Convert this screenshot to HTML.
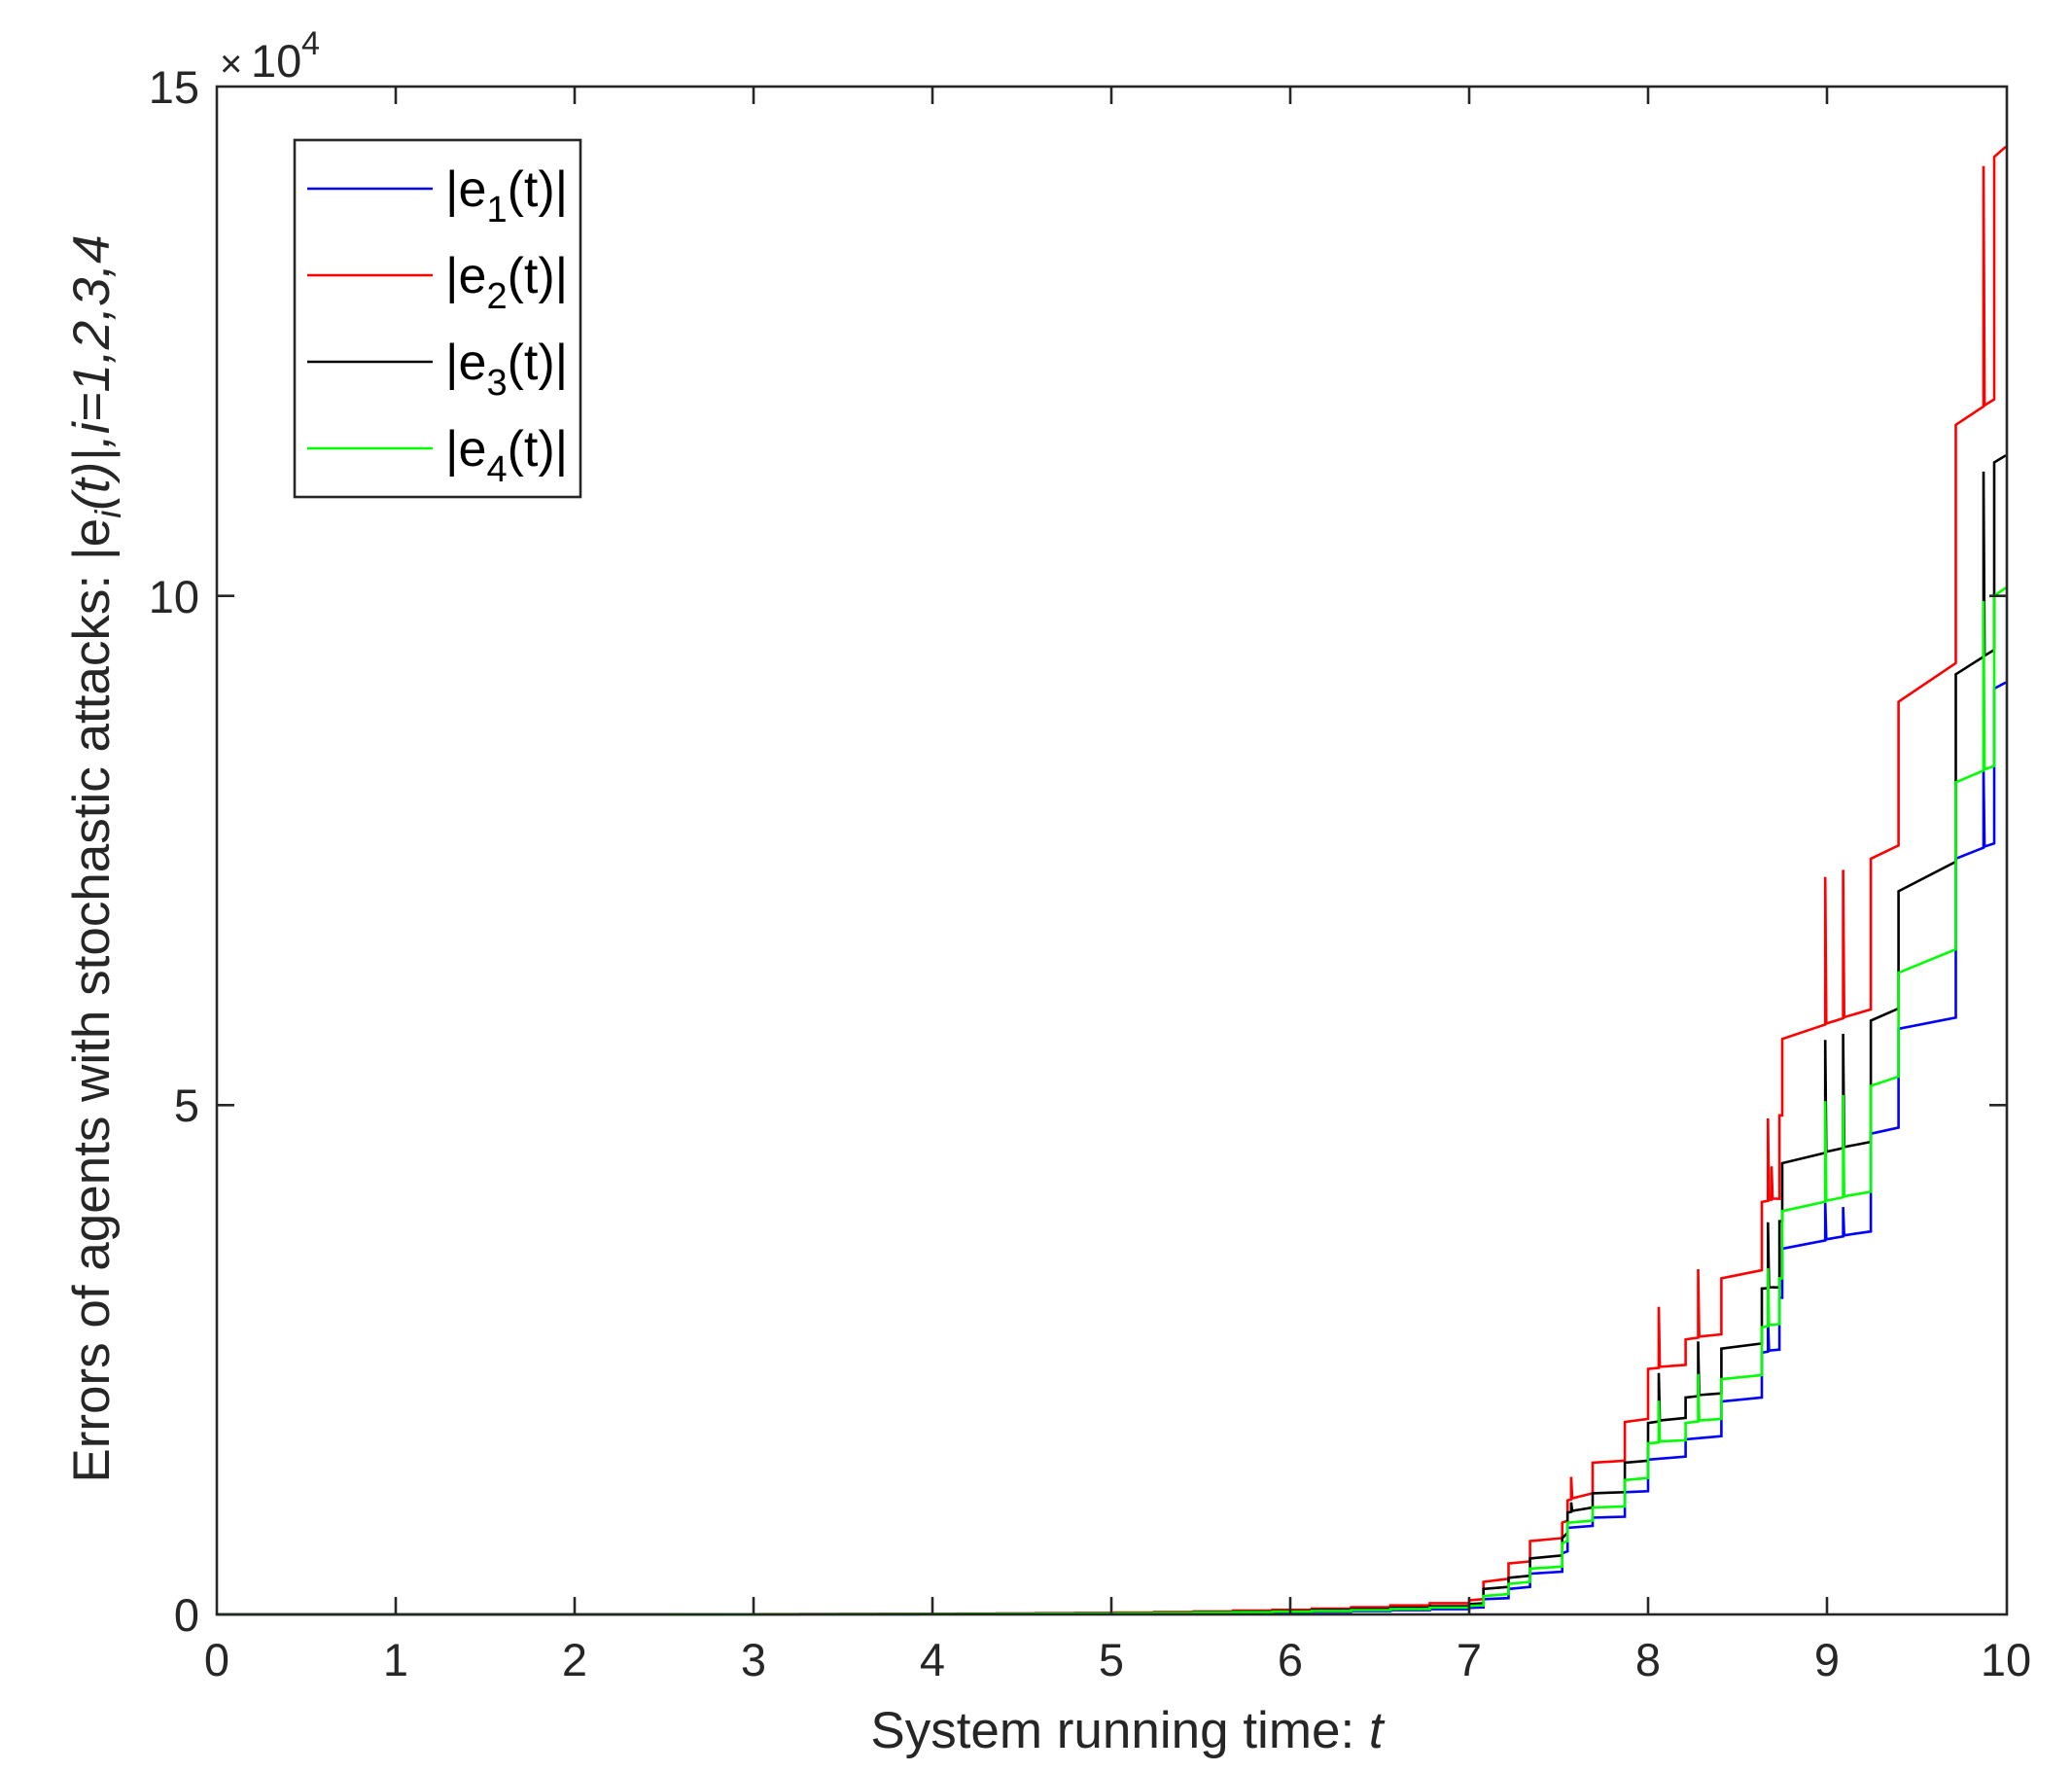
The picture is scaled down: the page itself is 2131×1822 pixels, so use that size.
<!DOCTYPE html>
<html><head><meta charset="utf-8"><style>
html,body{margin:0;padding:0;background:#fff;}
svg{display:block;}
text{font-family:"Liberation Sans",Arial,sans-serif;fill:#262626;}
</style></head><body>
<svg id="s" width="2131" height="1822" viewBox="0 0 2131 1822" xmlns="http://www.w3.org/2000/svg">
<rect x="0" y="0" width="2131" height="1822" fill="#fff"/>
<g id="data" fill="none" stroke-width="2.6" stroke-linejoin="miter"></g>
<rect x="223" y="89" width="1841" height="1571" fill="none" stroke="#262626" stroke-width="2.6"/>
<g stroke="#262626" stroke-width="2.6" id="ticks"></g>
<g font-size="47" text-anchor="middle" id="xl"></g>
<g font-size="47" text-anchor="end">
<text x="205" y="1677">0</text>
<text x="205" y="1153">5</text>
<text x="205" y="630">10</text>
<text x="205" y="106">15</text>
</g>
<text x="226" y="79" font-size="40">×</text>
<text x="258" y="79" font-size="47">10</text>
<text x="310" y="56" font-size="34">4</text>
<text x="1159" y="1797" font-size="53" text-anchor="middle">System running time:  <tspan font-style="italic">t</tspan></text>
<text transform="translate(112,883) rotate(-90)" font-size="53" text-anchor="middle">Errors of agents with stochastic attacks:  |e<tspan font-size="37" dy="12" font-style="italic">i</tspan><tspan dy="-12" font-style="italic">(t)|,i=1,2,3,4</tspan></text>
<rect x="303" y="144" width="294" height="367" fill="#fff" stroke="#262626" stroke-width="2.6"/>
<line x1="316" y1="194" x2="445" y2="194" stroke="#0000ff" stroke-width="2.6"/>
<line x1="316" y1="283" x2="445" y2="283" stroke="#ff0000" stroke-width="2.6"/>
<line x1="316" y1="372" x2="445" y2="372" stroke="#000" stroke-width="2.6"/>
<line x1="316" y1="461" x2="445" y2="461" stroke="#00ff00" stroke-width="2.6"/>
<g font-size="52">
<text x="458" y="212" style="fill:#000">|e<tspan font-size="38" dy="16">1</tspan><tspan dy="-16">(t)|</tspan></text>
<text x="458" y="301" style="fill:#000">|e<tspan font-size="38" dy="16">2</tspan><tspan dy="-16">(t)|</tspan></text>
<text x="458" y="390" style="fill:#000">|e<tspan font-size="38" dy="16">3</tspan><tspan dy="-16">(t)|</tspan></text>
<text x="458" y="479" style="fill:#000">|e<tspan font-size="38" dy="16">4</tspan><tspan dy="-16">(t)|</tspan></text>
</g>
</svg>
<script>
(function(){
var NS="http://www.w3.org/2000/svg";
function X(t){return 223+184*t;}
function Y(v){return 1660-104.73*v;}
var tk=document.getElementById('ticks'), xl=document.getElementById('xl'), d='';
for(var i=1;i<10;i++){var x=X(i);d+='M'+x+' 1660V1642M'+x+' 89V107';}
for(var j=1;j<3;j++){var y=Y(5*j);d+='M223 '+y+'H241M2064 '+y+'H2046';}
var p=document.createElementNS(NS,'path');p.setAttribute('d',d);tk.appendChild(p);
for(var i=0;i<=10;i++){var t=document.createElementNS(NS,'text');t.setAttribute('x',X(i));t.setAttribute('y',1723);t.textContent=i;xl.appendChild(t);}
function build(c,jumps,spikes,endV){
  var pts=[[0,0]],prev=0;
  for(var t=2.6;t<7.0;t+=0.22){var v=c*Math.exp(1.0*(t-7.08));pts.push([t,prev]);pts.push([t,v]);prev=v;}
  jumps.forEach(function(j){pts.push([j[0],j[1]]);pts.push([j[0],j[2]]);});
  pts.push([10,endV]);
  spikes.forEach(function(s){
    for(var k=0;k<pts.length-1;k++){
      if(pts[k][0]<=s[0]&&pts[k+1][0]>s[0]){
        var a=pts[k],b=pts[k+1],f=(s[0]-a[0])/(b[0]-a[0]),base=a[1]+f*(b[1]-a[1]);
        pts.splice(k+1,0,[s[0],base],[s[0],s[1]],[s[0]+0.006,base+0.01]);break;}
    }
  });
  return pts.map(function(q,i){return (i?'L':'M')+X(q[0]).toFixed(1)+' '+Y(q[1]).toFixed(1);}).join('');
}
var S={
red:[0.15,[[7.08,0.15,0.32],[7.22,0.35,0.5],[7.34,0.52,0.72],[7.52,0.75,0.9],[7.55,0.92,1.12],[7.69,1.19,1.49],[7.87,1.51,1.89],[8.0,1.92,2.41],[8.21,2.45,2.70],[8.41,2.75,3.30],[8.636,3.38,4.05],[8.734,4.08,4.9],[8.75,4.9,5.65],[9.245,5.94,7.42],[9.40,7.55,8.96],[9.72,9.34,11.68],[9.935,11.93,14.31]],
  [[7.57,1.35],[8.06,3.02],[8.28,3.39],[8.67,4.87],[8.69,4.4],[8.99,7.24],[9.09,7.31],[9.875,14.22]],14.41,'#ff0000'],
black:[0.11,[[7.08,0.11,0.25],[7.22,0.27,0.36],[7.34,0.38,0.55],[7.52,0.58,0.75],[7.55,0.8,1.0],[7.69,1.05,1.19],[7.87,1.2,1.49],[8.0,1.51,1.88],[8.21,1.93,2.13],[8.41,2.17,2.61],[8.636,2.66,3.2],[8.734,3.21,3.86],[8.75,3.86,4.43],[9.245,4.64,5.83],[9.40,5.95,7.1],[9.72,7.39,9.23],[9.935,9.47,11.31]],
  [[7.57,1.1],[8.06,2.37],[8.28,2.68],[8.67,3.85],[8.99,5.64],[9.09,5.7],[9.875,11.22]],11.38,'#000000'],
green:[0.09,[[7.08,0.09,0.18],[7.22,0.2,0.3],[7.34,0.32,0.45],[7.52,0.47,0.7],[7.55,0.72,0.9],[7.69,0.92,1.05],[7.87,1.06,1.32],[8.0,1.34,1.68],[8.21,1.71,1.88],[8.41,1.92,2.31],[8.636,2.35,2.82],[8.734,2.85,3.3],[8.75,3.3,3.96],[9.245,4.15,5.19],[9.40,5.28,6.3],[9.72,6.53,8.17],[9.935,8.33,10.0]],
  [[8.06,2.1],[8.28,2.36],[8.67,3.4],[8.99,5.04],[9.09,5.1],[9.875,9.95]],10.08,'#00ff00'],
blue:[0.07,[[7.08,0.07,0.15],[7.22,0.16,0.25],[7.34,0.27,0.4],[7.52,0.42,0.6],[7.55,0.62,0.85],[7.69,0.87,0.95],[7.87,0.96,1.2],[8.0,1.21,1.52],[8.21,1.55,1.72],[8.41,1.75,2.09],[8.636,2.13,2.57],[8.734,2.6,3.11],[8.75,3.11,3.59],[9.245,3.76,4.72],[9.40,4.78,5.75],[9.72,5.86,7.42],[9.935,7.57,9.09]],
  [[8.67,2.9],[8.99,4.05],[9.09,4.0],[9.875,8.3]],9.15,'#0000ff']
};
var g=document.getElementById('data');
['blue','red','black','green'].forEach(function(k){var s=S[k];var p=document.createElementNS(NS,'path');
p.setAttribute('d',build(s[0],s[1],s[2],s[3]));p.setAttribute('stroke',s[4]);g.appendChild(p);});
})();
</script>
</body></html>
